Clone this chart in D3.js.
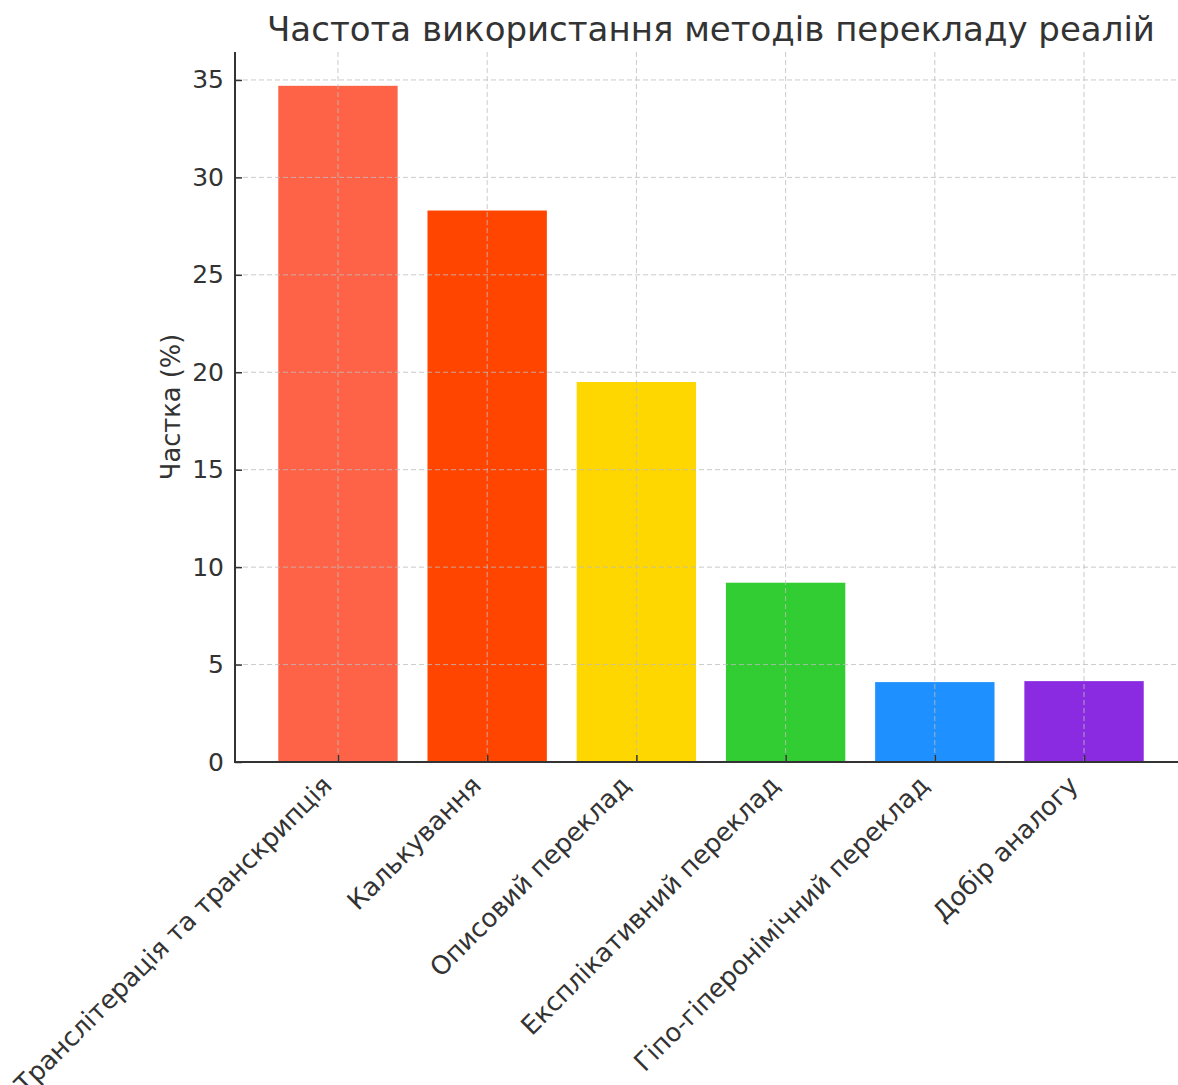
<!DOCTYPE html>
<html>
<head>
<meta charset="utf-8">
<script src="https://cdn.jsdelivr.net/npm/d3@7"></script>
<style>
  html, body { margin: 0; padding: 0; background: #fff; }
  svg { display: block; font-family: "DejaVu Sans", sans-serif; }
</style>
</head>
<body>
<svg id="chart" width="1178" height="1085"></svg>
<script>
// Translation methods and their share of all realia translations, %
const categories = [
  "Транслітерація та транскрипція",
  "Калькування",
  "Описовий переклад",
  "Експлікативний переклад",
  "Гіпо-гіперонімічний переклад",
  "Добір аналогу"
];
const shares = [34.7, 28.3, 19.5, 9.2, 4.1, 4.15];
const barColors = ["#FF6347", "#FF4500", "#FFD700", "#32CD32", "#1E90FF", "#8A2BE2"];
const yTicks = [0, 5, 10, 15, 20, 25, 30, 35];

const titleText = "Частота використання методів перекладу реалій";
const yLabelText = "Частка (%)";

const svg = d3.select("#chart");
const plot = { left: 235, right: 1187, top: 52, bottom: 762 };
const ink = "#333333";

const barWidth = 0.8;
const x = d3.scaleLinear()
  .domain([-barWidth / 2 - 0.29, categories.length - 1 + barWidth / 2 + 0.29])
  .range([plot.left, plot.right]);
const y = d3.scaleLinear()
  .domain([0, d3.max(shares) * 1.05])
  .range([plot.bottom, plot.top]);

// bars
svg.append("g")
  .selectAll("rect")
  .data(shares)
  .join("rect")
  .attr("x", (d, i) => x(i - barWidth / 2))
  .attr("width", (d, i) => x(i + barWidth / 2) - x(i - barWidth / 2))
  .attr("y", d => y(d))
  .attr("height", d => y(0) - y(d))
  .attr("fill", (d, i) => barColors[i]);

// dashed grid over the bars
const grid = svg.append("g")
  .attr("stroke", "#bdbdbd")
  .attr("stroke-opacity", 0.8)
  .attr("stroke-width", 1)
  .attr("stroke-dasharray", "5,3");
grid.selectAll("line.h")
  .data(yTicks.filter(t => t > 0))
  .join("line")
  .attr("class", "h")
  .attr("x1", plot.left).attr("x2", plot.right)
  .attr("y1", d => y(d)).attr("y2", d => y(d));
grid.selectAll("line.v")
  .data(categories.map((c, i) => i))
  .join("line")
  .attr("class", "v")
  .attr("x1", d => x(d)).attr("x2", d => x(d))
  .attr("y1", plot.top).attr("y2", plot.bottom);

// y axis (ticks point inward)
const yAxis = svg.append("g")
  .attr("transform", `translate(${plot.left},0)`)
  .call(d3.axisLeft(y).tickValues(yTicks).tickFormat(d3.format("d"))
    .tickSizeInner(-7).tickSizeOuter(0).tickPadding(11));
yAxis.select(".domain").remove();
yAxis.selectAll(".tick line").attr("stroke", ink).attr("stroke-width", 1.5);
yAxis.selectAll(".tick text")
  .attr("fill", ink)
  .attr("font-size", 25)
  .attr("font-family", "DejaVu Sans");

// x axis (ticks point inward, labels rotated)
const xAxis = svg.append("g")
  .attr("transform", `translate(0,${plot.bottom})`)
  .call(d3.axisBottom(x).tickValues(categories.map((c, i) => i))
    .tickFormat(i => categories[i]).tickSizeInner(-7).tickSizeOuter(0));
xAxis.select(".domain").remove();
xAxis.selectAll(".tick line").attr("stroke", ink).attr("stroke-width", 1.5);
xAxis.selectAll(".tick text")
  .attr("fill", ink)
  .attr("font-size", 25.7)
  .attr("font-family", "DejaVu Sans")
  .attr("text-anchor", "end")
  .attr("dy", null)
  .attr("y", 0)
  .attr("transform", "translate(-5,25) rotate(-45)");

// spines
svg.append("line")
  .attr("x1", plot.left).attr("x2", plot.left)
  .attr("y1", plot.top).attr("y2", plot.bottom)
  .attr("stroke", ink).attr("stroke-width", 2);
svg.append("line")
  .attr("x1", plot.left - 1).attr("x2", plot.right)
  .attr("y1", plot.bottom).attr("y2", plot.bottom)
  .attr("stroke", ink).attr("stroke-width", 2);

// title
svg.append("text")
  .attr("x", (plot.left + plot.right) / 2)
  .attr("y", 41)
  .attr("text-anchor", "middle")
  .attr("font-size", 34)
  .attr("fill", ink)
  .text(titleText);

// y axis label
svg.append("text")
  .attr("transform", `translate(180,${(plot.top + plot.bottom) / 2}) rotate(-90)`)
  .attr("text-anchor", "middle")
  .attr("font-size", 25.7)
  .attr("fill", ink)
  .text(yLabelText);
</script>
</body>
</html>
